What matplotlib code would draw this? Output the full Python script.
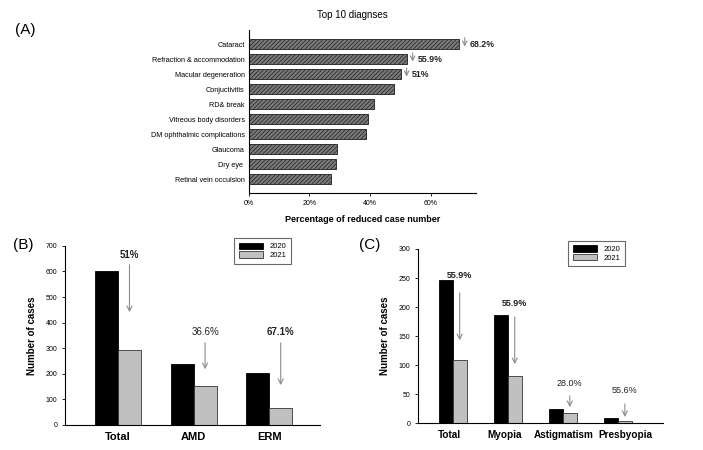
import matplotlib
matplotlib.use("Agg")
import matplotlib.pyplot as plt
import matplotlib.transforms as mtransforms
import numpy as np

plt.rcParams["font.family"] = ["Liberation Sans", "DejaVu Sans"]
plt.rcParams["hatch.linewidth"] = 0.5

# (A) top 10 diagnoses, percentage of reduced case number
diagnoses = [
    "Cataract",
    "Refraction & accommodation",
    "Macular degeneration",
    "Conjuctivitis",
    "RD& break",
    "Vitreous body disorders",
    "DM ophthalmic complications",
    "Glaucoma",
    "Dry eye ",
    "Retinal vein occulsion",
]
reduction = [69.5, 52.3, 50.3, 47.8, 41.4, 39.5, 38.7, 29.1, 28.7, 27.2]
reduction_labels = ["68.2%", "55.9%", "51%"]

# (B) retina cases
b_groups = ["Total", "AMD", "ERM"]
b_2020 = [601, 240, 204]
b_2021 = [294, 152, 67]
b_labels = ["51%", "36.6%", "67.1%"]
b_bold = [True, False, True]

# (C) refraction cases
c_groups = ["Total", "Myopia", "Astigmatism", "Presbyopia"]
c_2020 = [247, 186, 25, 9]
c_2021 = [109, 82, 18, 4]
c_extra = [0.8, 0.8, 0.8, 0.8]
c_labels = ["55.9%", "55.9%", "28.0%", "55.6%"]
c_bold = [True, True, False, False]

ARROW_GREY = "#8c8c8c"

fig = plt.figure(figsize=(7.03, 4.5), dpi=100)

# ---- panel A ----
ax_a = fig.add_axes([0.354, 0.571, 0.323, 0.362])
rows = np.arange(len(diagnoses))[::-1]
ax_a.barh(rows, reduction, height=0.65, color="#7a7a7a", edgecolor="#1e1e1e",
          hatch="////////", linewidth=0.6)
ax_a.set_yticks(rows, diagnoses, fontsize=5.2)
ax_a.tick_params(axis="y", length=0, pad=3)
ax_a.set_xlim(0, 75)
ax_a.set_ylim(-0.93, 9.93)
ax_a.set_xticks([0, 20, 40, 60], ["0%", "20%", "40%", "60%"], fontsize=5)
ax_a.tick_params(axis="x", length=2, width=0.6, pad=3)
for side in ("top", "right"):
    ax_a.spines[side].set_visible(False)
for side in ("left", "bottom"):
    ax_a.spines[side].set_linewidth(0.8)
ax_a.set_xlabel("Percentage of reduced case number", fontsize=6.5,
                fontweight="bold", labelpad=6)
for row, val, lab in zip(rows, reduction, reduction_labels):
    ax_a.annotate("", xy=(val + 1.8, row - 0.35), xytext=(val + 1.8, row + 0.6),
                  arrowprops=dict(arrowstyle="->", color=ARROW_GREY, lw=0.8,
                                  mutation_scale=8))
    ax_a.text(val + 3.4, row, lab, fontsize=6.3, fontweight="bold",
              va="center", ha="left", color="#222222")
fig.text(352 / 703, 1 - 15 / 450, "Top 10 diagnses", fontsize=7, ha="center",
         va="center")
fig.text(0.022, 1 - 30 / 450, "(A)", fontsize=11, va="center")


def grouped(ax, groups, s2020, s2021, width, extra=None, fs=8):
    x = np.arange(len(groups))
    ax.bar(x - width / 2, s2020, width, color="black", edgecolor="black",
           linewidth=0.6, label="2020")
    ax.bar(x + width / 2, s2021, width, color="#c0c0c0", edgecolor="#333333",
           linewidth=0.6, label="2021")
    if extra is not None:
        ax.bar(x + 1.5 * width, extra, width, color="white", edgecolor="#333333",
               linewidth=0.6)
    ax.set_xticks(x, groups, fontsize=fs, fontweight="bold")
    ax.tick_params(axis="x", length=0, pad=5)
    ax.tick_params(axis="y", labelsize=5, length=2, width=0.6)
    for side in ("top", "right"):
        ax.spines[side].set_visible(False)
    for side in ("left", "bottom"):
        ax.spines[side].set_linewidth(0.8)
    ax.set_ylabel("Number of cases", fontsize=7, fontweight="bold", labelpad=6)
    return x


def annotate(ax, xs, labels, bolds, text_y, arrow_top, arrow_bottom, fs):
    for xi, lab, bold, ty, at, ab in zip(xs, labels, bolds, text_y,
                                         arrow_top, arrow_bottom):
        ax.annotate("", xy=(xi, ab), xytext=(xi, at),
                    arrowprops=dict(arrowstyle="->", color=ARROW_GREY, lw=0.8,
                                    mutation_scale=9))
        ax.text(xi, ty, lab, fontsize=fs, ha="center", va="center",
                fontweight="bold" if bold else "normal", color="#222222")


# ---- panel B ----
ax_b = fig.add_axes([0.0925, 0.0556, 0.363, 0.398])
wb = 0.305
xb = grouped(ax_b, b_groups, b_2020, b_2021, wb)
ax_b.set_xlim(-0.70, 2.675)
ax_b.set_ylim(0, 700)
ax_b.set_yticks(range(0, 701, 100))
annotate(ax_b, xb + wb / 2, b_labels, b_bold,
         text_y=[665, 365, 364], arrow_top=[637, 332, 332],
         arrow_bottom=[430, 207, 145], fs=7)
leg_b = ax_b.legend(loc="upper right", bbox_to_anchor=(0.9, 1.065), fontsize=5.5,
                    handlelength=3.2, handleheight=0.9, frameon=True,
                    fancybox=False, edgecolor="#444444", borderpad=0.6,
                    labelspacing=0.1)
leg_b.get_frame().set_linewidth(0.8)
fig.text(0.018, 1 - 245 / 450, "(B)", fontsize=11, va="center")

# ---- panel C ----
ax_c = fig.add_axes([0.5946, 0.0593, 0.3485, 0.3874])
wc = 0.254
xc = grouped(ax_c, c_groups, c_2020, c_2021, wc, extra=c_extra, fs=7.2)
ax_c.set_xlim(-0.63, 3.82)
ax_c.set_ylim(0, 300)
ax_c.set_yticks(range(0, 301, 50))
# nudge the last labels right, as in the original layout
for lbl, dx in zip(ax_c.get_xticklabels(), (-3, -3, 1, 8)):
    lbl.set_transform(lbl.get_transform() + mtransforms.ScaledTranslation(
        dx / 100, 0, fig.dpi_scale_trans))
annotate(ax_c, xc + wc / 2, c_labels, c_bold,
         text_y=[255, 207, 69, 57], arrow_top=[229, 188, 52, 38],
         arrow_bottom=[138, 97, 23, 6], fs=6.5)
leg_c = ax_c.legend(loc="upper right", bbox_to_anchor=(0.86, 1.07), fontsize=5.5,
                    handlelength=3.2, handleheight=0.9, frameon=True,
                    fancybox=False, edgecolor="#444444", borderpad=0.6,
                    labelspacing=0.1)
leg_c.get_frame().set_linewidth(0.8)
fig.text(0.51, 1 - 245 / 450, "(C)", fontsize=11, va="center")

fig.savefig("out.png", dpi=100)
